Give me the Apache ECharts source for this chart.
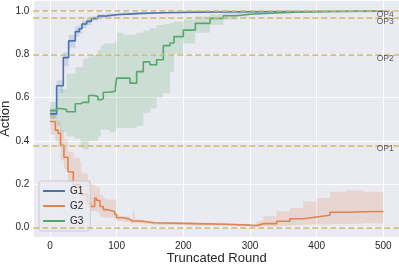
<!DOCTYPE html>
<html><head><meta charset="utf-8">
<script src="https://cdn.jsdelivr.net/npm/echarts@6/dist/echarts.min.js"></script>
<style>html,body{margin:0;padding:0;background:#fff}#c{width:399px;height:264px}</style>
</head><body><div id="c"></div>
<script>
// ---- data ----
const xTicks = [0, 100, 200, 300, 400, 500];
const yTicks = [0, 0.2, 0.4, 0.6, 0.8, 1.0];
const seriesNames = ['G1', 'G2', 'G3'];

const g1X    = [0, 10, 20, 28, 38, 44, 48, 55, 62, 72, 85, 100, 130, 170, 220, 300, 500];
const g1Mean = [0.525, 0.655, 0.785, 0.862, 0.905, 0.918, 0.94, 0.952, 0.966, 0.977, 0.983, 0.988, 0.992, 0.995, 0.997, 0.999, 1.0];
const g1Lo   = [0.505, 0.62, 0.745, 0.83, 0.88, 0.895, 0.92, 0.935, 0.955, 0.968, 0.975, 0.982, 0.988, 0.992, 0.995, 0.998, 0.999];
const g1Hi   = [0.55, 0.68, 0.81, 0.89, 0.93, 0.935, 0.955, 0.965, 0.975, 0.985, 0.99, 0.993, 0.996, 0.998, 0.999, 1.0, 1.0];

const g2X    = [0, 8, 12, 16, 21, 27, 35, 45, 47, 57, 61, 67, 70, 75, 80, 85, 97, 100, 110, 120, 124, 127, 140, 155, 215, 265, 300, 310, 320, 340, 360, 380, 400, 420, 445, 470, 500];
const g2Mean = [0.49, 0.45, 0.435, 0.38, 0.325, 0.258, 0.197, 0.166, 0.152, 0.112, 0.097, 0.135, 0.125, 0.097, 0.083, 0.074, 0.06, 0.045, 0.038, 0.03, 0.03, 0.029, 0.022, 0.018, 0.015, 0.011, 0.009, 0.018, 0.018, 0.029, 0.041, 0.049, 0.057, 0.071, 0.073, 0.074, 0.074];
const g2Lo   = [0.43, 0.40, 0.37, 0.31, 0.27, 0.21, 0.175, 0.13, 0.12, 0.09, 0.075, 0.075, 0.07, 0.05, 0.048, 0.045, 0.04, 0.03, 0.026, 0.02, 0.02, 0.02, 0.015, 0.012, 0.01, 0.007, 0.005, 0.006, 0.006, 0.008, 0.012, 0.014, 0.014, 0.016, 0.018, 0.02, 0.02];
const g2Hi   = [0.53, 0.50, 0.49, 0.45, 0.41, 0.35, 0.32, 0.30, 0.25, 0.22, 0.20, 0.19, 0.185, 0.15, 0.135, 0.13, 0.13, 0.055, 0.052, 0.04, 0.075, 0.038, 0.03, 0.026, 0.022, 0.018, 0.015, 0.029, 0.052, 0.075, 0.09, 0.12, 0.137, 0.165, 0.172, 0.165, 0.17];

const g3X    = [0, 10, 15, 25, 38, 46, 50, 58, 66, 72, 76, 80, 90, 98, 100, 110, 120, 130, 140, 150, 160, 170, 180, 186, 200, 218, 240, 260, 280, 300, 330, 370, 420, 500];
const g3Mean = [0.54, 0.55, 0.545, 0.535, 0.572, 0.578, 0.578, 0.61, 0.605, 0.59, 0.595, 0.625, 0.63, 0.645, 0.69, 0.69, 0.667, 0.72, 0.765, 0.752, 0.775, 0.84, 0.852, 0.882, 0.912, 0.943, 0.966, 0.978, 0.985, 0.99, 0.995, 0.998, 1.0, 1.0];
const g3Lo   = [0.50, 0.47, 0.44, 0.42, 0.41, 0.37, 0.36, 0.40, 0.40, 0.42, 0.45, 0.45, 0.44, 0.45, 0.46, 0.46, 0.46, 0.47, 0.53, 0.55, 0.60, 0.62, 0.72, 0.80, 0.85, 0.90, 0.935, 0.96, 0.975, 0.985, 0.992, 0.996, 0.999, 1.0];
const g3Hi   = [0.58, 0.62, 0.64, 0.71, 0.74, 0.74, 0.78, 0.79, 0.80, 0.82, 0.84, 0.85, 0.85, 0.86, 0.90, 0.89, 0.89, 0.90, 0.91, 0.92, 0.935, 0.94, 0.945, 0.95, 0.96, 0.975, 0.985, 0.99, 0.995, 0.998, 1.0, 1.0, 1.0, 1.0];

const opNames  = ['OP1', 'OP2', 'OP3', 'OP4'];
const opValues = [0.384, 0.8, 0.97, 1.0];
const baseLine = [0];

// ---- styling / layout ----
const COLORS = ['#4C72B0', '#DD8452', '#55A868'];
const DASH = '#CCB974';
const TXT = '#262626';
const FONT = 'Liberation Sans, Arial, sans-serif';
const LABEL_X = 490;

function isTick(v, ticks) { return ticks.some(t => Math.abs(t - v) < 1e-6); }

function band(name, xs, lo, hi, color) {
  return {
    type: 'custom', name: name + ' band', silent: true, z: 1,
    data: [[xs[0], lo[0]]],
    encode: { x: 0, y: 1 },
    renderItem: function (params, api) {
      const pts = [];
      for (let i = 0; i < xs.length; i++) {
        if (i > 0) pts.push(api.coord([xs[i], hi[i - 1]]));
        pts.push(api.coord([xs[i], hi[i]]));
      }
      for (let i = xs.length - 1; i >= 0; i--) {
        pts.push(api.coord([xs[i], lo[i]]));
        if (i > 0) pts.push(api.coord([xs[i], lo[i - 1]]));
      }
      return { type: 'polygon', shape: { points: pts }, style: { fill: color, opacity: 0.2 } };
    }
  };
}

function line(name, xs, ys, color) {
  return {
    type: 'line', name: name, step: 'end', showSymbol: false, symbol: 'none', z: 2,
    data: xs.map((x, i) => [x, ys[i]]),
    lineStyle: { color: color, width: 1.6 },
    itemStyle: { color: color },
    animation: false
  };
}

const dashLines = baseLine.concat(opValues);

const option = {
  animation: false,
  backgroundColor: '#ffffff',
  grid: { left: 33.3, top: 0.2, width: 366.7, height: 237.1, show: true, backgroundColor: '#EAEAF2', borderWidth: 0,
    containLabel: false, outerBoundsMode: 'none' },
  xAxis: {
    type: 'value', min: -25, max: 525,
    name: 'Truncated Round', nameLocation: 'middle', nameGap: 15, nameMoveOverlap: false,
    nameTextStyle: { fontSize: 13, color: TXT, fontFamily: FONT },
    axisLine: { show: false }, axisTick: { show: false },
    axisLabel: { margin: 4, fontSize: 10, color: TXT, fontFamily: FONT,
      formatter: v => isTick(v, xTicks) ? String(Math.round(v)) : '' },
    splitLine: { show: true, lineStyle: { color: '#ffffff', width: 1 } }
  },
  yAxis: {
    type: 'value', min: -0.045, max: 1.05,
    name: 'Action', nameLocation: 'middle', nameGap: 21, nameMoveOverlap: false,
    nameTextStyle: { fontSize: 13, color: TXT, fontFamily: FONT },
    axisLine: { show: false }, axisTick: { show: false },
    axisLabel: { margin: 4, fontSize: 10, color: TXT, fontFamily: FONT,
      formatter: v => isTick(v, yTicks) ? v.toFixed(1) : '' },
    splitLine: { show: true, lineStyle: { color: '#ffffff', width: 1 } }
  },
  legend: {
    data: seriesNames, left: 39, top: 181, orient: 'vertical',
    icon: 'rect', itemWidth: 22, itemHeight: 2, itemGap: 3, itemTextGap: 8,
    padding: [4, 7, 4, 4],
    backgroundColor: 'rgba(234,234,242,0.8)', borderColor: '#cccccc', borderWidth: 1, borderRadius: 3,
    textStyle: { fontSize: 10, color: TXT, fontFamily: FONT, lineHeight: 12 }
  },
  series: [
    band('G1', g1X, g1Lo, g1Hi, COLORS[0]),
    band('G2', g2X, g2Lo, g2Hi, COLORS[1]),
    band('G3', g3X, g3Lo, g3Hi, COLORS[2]),
    line('G1', g1X, g1Mean, COLORS[0]),
    line('G2', g2X, g2Mean, COLORS[1]),
    line('G3', g3X, g3Mean, COLORS[2]),
    {
      type: 'scatter', name: 'op', silent: true, z: 5, symbolSize: 0.01,
      data: opValues.map((v, i) => ({ value: [LABEL_X, v], name: opNames[i] })),
      label: { show: true, formatter: '{b}', position: [0, 4], align: 'left', verticalAlign: 'middle',
        fontSize: 8.5, color: '#333333', fontFamily: FONT },
      markLine: {
        silent: true, symbol: 'none', animation: false,
        label: { show: false },
        lineStyle: { color: DASH, width: 1.6, type: [6, 3] },
        data: dashLines.map(v => ({ yAxis: v }))
      }
    }
  ]
};

const chart = echarts.init(document.getElementById('c'), null, { renderer: 'canvas' });
chart.setOption(option);
</script>
</body></html>
